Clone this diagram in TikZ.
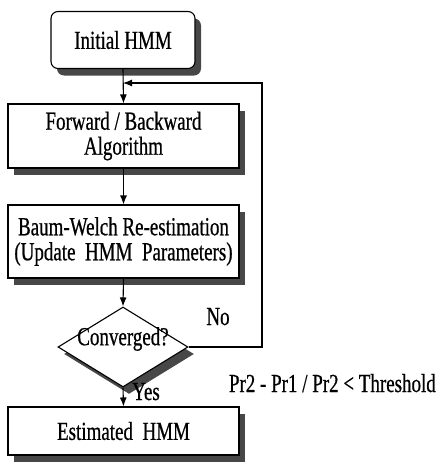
\documentclass[tikz,border=0pt]{standalone}
\usepackage{fontspec}
\setmainfont[FakeStretch=0.73,FakeBold=0.6]{Liberation Serif}
\usetikzlibrary{arrows.meta,shapes.geometric,shadows}
\begin{document}
\begin{tikzpicture}[x=1pt,y=-1pt,
  every node/.style={font=\fontsize{26}{25}\selectfont},
  shad/.style={general shadow={shadow xshift=6pt,shadow yshift=-7pt,fill=black!72}},
  box/.style={draw,line width=1.1pt,fill=white,shad,inner sep=0pt,align=center},
  arr/.style={line width=1.1pt,-{Latex[length=9pt,width=7pt]}},
  lbl/.style={inner sep=0pt}]
\useasboundingbox (0,0) rectangle (437,472);
\node[box,rounded corners=7pt,minimum width=144pt,minimum height=57pt] (init) at (123,40) {Initial HMM};
\node[box,minimum width=231pt,minimum height=64pt] (fwd) at (123.5,136) {Forward / Backward\\Algorithm};
\node[box,minimum width=231pt,minimum height=73pt] (baum) at (123.5,241.5) {Baum-Welch Re-estimation\\(Update~ HMM~ Parameters)};
\node[draw,line width=1.1pt,fill=white,shad,shape=diamond,inner sep=0pt,minimum width=130pt,minimum height=80pt] (dia) at (123,347) {};
\node[lbl] (conv) at (123,339) {Converged?};
\node[box,minimum width=231pt,minimum height=48pt] (est) at (123.5,431) {Estimated~ HMM};
\node[lbl,anchor=base] (no) at (218,325) {No};
\node[lbl,anchor=base west] (yes) at (132,400) {Yes};
\node[lbl,anchor=base east] (thr) at (436,392) {Pr2 - Pr1 / Pr2 < Threshold};
\coordinate (r) at (262,83);
\coordinate (j) at (123,83);
\draw[arr] (init.south) -- (fwd.north);
\draw[arr] (fwd.south) -- (baum.north);
\draw[arr] (baum.south) -- (dia.north);
\draw[arr] (dia.south) -- (est.north);
\draw[arr] (dia.east) -| (r) -- (j);
\end{tikzpicture}
\end{document}
